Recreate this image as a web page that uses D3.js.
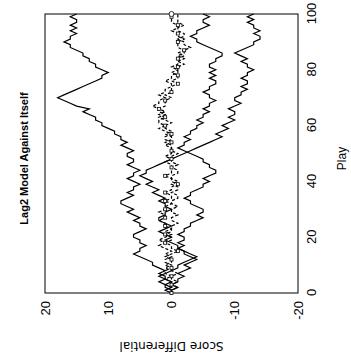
<!DOCTYPE html>
<meta charset="utf-8">
<style>
body{margin:0;background:#fff;}
text{font-family:"Liberation Sans",Arial,sans-serif;fill:#000;}
.frame{fill:none;stroke:#000;stroke-width:1px;}
.run{fill:none;stroke:#000;stroke-width:1.2px;}
.dash{stroke-dasharray:3,2;}
.mark{fill:#fff;stroke:#000;stroke-width:0.8px;}
</style>
<body>
<script src="https://cdn.jsdelivr.net/npm/d3@7"></script>
<script>

// score differential after each play (index = play number 0..100)
var runHigh=[0,0,1,1,0,1,1,2,1,2,3,3,4,5,6,5,5,4,5,5,6,6,5,4,5,5,6,5,6,7,6,7,8,8,7,6,7,6,6,5,6,7,6,6,5,6,7,6,6,7,7,6,7,8,7,8,8,9,9,10,11,11,12,12,13,14,13,15,16,17,18,17,16,15,14,13,12,11,11,10,11,12,12,13,13,14,14,15,16,16,17,16,16,15,16,15,16,15,15,16,15];
var runLow=[0,1,0,1,2,1,2,1,0,-1,-1,-2,-3,-4,-3,-2,-1,-1,0,1,0,1,2,1,0,1,2,2,1,1,0,1,1,2,1,2,3,2,3,4,3,4,5,4,4,3,2,1,0,-1,-2,-3,-4,-5,-6,-7,-8,-7,-8,-9,-8,-9,-10,-9,-10,-10,-9,-10,-11,-10,-10,-11,-11,-12,-11,-12,-12,-11,-12,-12,-13,-12,-12,-11,-12,-11,-10,-11,-12,-13,-13,-14,-14,-13,-14,-13,-13,-12,-13,-12,-13];
var runMid=[0,0,-1,0,-1,-1,-2,-1,-2,-3,-2,-3,-4,-3,-2,-2,-1,-2,-1,-2,-2,-1,-2,-2,-3,-3,-4,-5,-4,-5,-5,-4,-3,-3,-2,-3,-3,-4,-5,-5,-6,-5,-6,-7,-7,-6,-6,-5,-5,-4,-3,-2,-1,-2,-2,-3,-2,-3,-3,-4,-4,-5,-4,-5,-5,-6,-5,-6,-6,-7,-6,-6,-5,-6,-6,-7,-7,-6,-7,-6,-7,-6,-6,-7,-7,-8,-8,-7,-6,-5,-4,-4,-3,-4,-4,-5,-6,-5,-5,-6,-5];
var runEven=[0,0,0,0,0,1,0,1,1,0,1,0,0,1,0,-1,0,0,1,0,0,1,0,0,1,1,2,1,1,2,1,1,0,1,0,0,1,0,0,-1,0,0,1,0,0,0,-1,0,0,1,0,0,0,1,0,1,1,0,1,2,1,2,2,1,2,1,2,1,1,1,0,1,0,0,0,-1,0,-1,-1,0,-1,-1,-2,-1,-1,-2,-1,-2,-1,-1,-1,-2,-1,-1,0,-1,-1,0,0,0,0];
var runDrift=[0,0,-1,0,-1,0,0,-1,0,1,0,1,1,0,1,0,1,2,1,2,1,0,1,0,0,-1,0,0,-1,0,0,-1,0,0,-1,-1,0,-1,-1,0,-1,0,0,-1,-1,0,0,1,0,0,-1,0,0,0,1,0,0,1,0,1,1,0,1,2,1,2,2,3,2,2,1,2,1,1,0,0,1,0,0,-1,-1,0,-1,-1,-2,-1,-2,-2,-3,-2,-2,-1,-2,-2,-1,-1,-2,-1,-1,-1,-1];

var playTicks=[0,20,40,60,80,100];
var scoreTicks=[-20,-10,0,10,20];

var W=279, H=253;
var svg=d3.select("body").append("svg").attr("width",351).attr("height",364);

// the chart is drawn upright and then turned a quarter turn to the left
var g=svg.append("g").attr("transform","translate(45,293) rotate(-90)");

var x=d3.scaleLinear().domain([0,100]).range([0,W]);
var y=d3.scaleLinear().domain([-20,20]).range([H,0]);

var xAxis=g.append("g").attr("transform","translate(0,"+H+")")
	.call(d3.axisBottom(x).tickValues(playTicks).tickSize(0).tickPadding(9));
var yAxis=g.append("g")
	.call(d3.axisLeft(y).tickValues(scoreTicks).tickSize(0).tickPadding(8).tickFormat(d=>String(d)));
[xAxis,yAxis].forEach(function(a){
	a.select(".domain").remove();
	a.selectAll("text").style("font-family",null).style("font-size","13px");
});

g.append("rect").attr("class","frame").attr("width",W).attr("height",H);

var line=d3.line().x((d,i)=>x(i)).y(d=>y(d));

[runHigh,runLow,runMid].forEach(function(s){
	g.append("path").attr("class","run").attr("d",line(s));
});
g.append("path").attr("class","run dash").attr("d",line(runDrift));
g.append("path").attr("class","run dash").attr("d",line(runEven));

g.selectAll(".mark").data(runEven.filter((d,i)=>i%3==0)).enter()
	.append("rect").attr("class","mark")
	.attr("x",(d,i)=>x(i*3)-1.5).attr("y",d=>y(d)-1.5)
	.attr("width",3).attr("height",3);
g.append("circle").attr("class","mark")
	.attr("cx",x(100)).attr("cy",y(runEven[100])).attr("r",2.5);

var mid=W/2-5;
g.append("text").attr("x",mid).attr("y",-17)
	.attr("text-anchor","middle").style("font-size","11px").style("font-weight","bold")
	.text("Lag2 Model Against Itself");
g.append("text").attr("x",mid).attr("y",H+48)
	.attr("text-anchor","middle").style("font-size","12px")
	.text("Play");
g.append("text").attr("transform","translate(-49,"+(H/2)+") rotate(-90)")
	.attr("text-anchor","middle").style("font-family","'DejaVu Sans',sans-serif").style("font-size","12px")
	.text("Score Differential");
</script>
</body>
